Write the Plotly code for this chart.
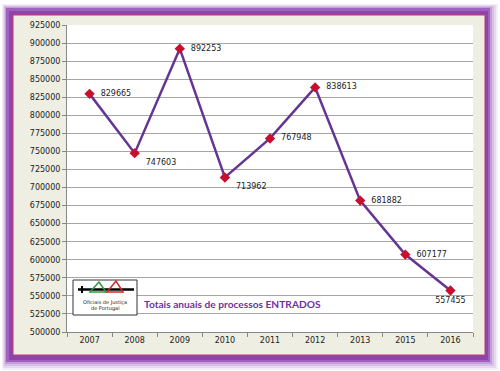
import plotly.graph_objects as go

years = ["2007", "2008", "2009", "2010", "2011", "2012", "2013", "2015", "2016"]
values = [829665, 747603, 892253, 713962, 767948, 838613, 681882, 607177, 557455]
label_pos = ["middle right", "bottom right", "middle right", "bottom right", "middle right",
             "middle right", "middle right", "middle right", "bottom center"]
title_text = "Totais anuais de processos ENTRADOS"

W, H = 500, 371
L, R, T, B = 67, 473, 25, 332

def px(x):
    return (x - L) / (R - L)

def py(y):
    return (B - y) / (B - T)

def rect(x0, y0, x1, y1, **kw):
    return dict(type="rect", xref="paper", yref="paper",
                x0=px(x0), x1=px(x1), y0=py(y1), y1=py(y0), **kw)

shapes = []
# soft glow / shadow around the frame
glow = [(2, 4, 498, 370, 0.10), (3, 5, 496, 368, 0.14), (4, 6, 494, 366, 0.20), (5, 7, 492, 364, 0.30)]
for x0, y0, x1, y1, op in glow:
    shapes.append(rect(x0, y0, x1, y1, fillcolor=f"rgba(150,90,185,{op})",
                       line=dict(width=0), layer="below"))
# purple frame
shapes.append(rect(6, 8, 490, 362, fillcolor="#A062BE", line=dict(width=0), layer="below"))
shapes.append(rect(9, 11, 488, 360, fillcolor="#8E45AA", line=dict(width=0), layer="below"))
# beige panel with thin pink border
shapes.append(rect(13, 15, 485, 355, fillcolor="#EEEEE2",
                   line=dict(color="#C03A70", width=1), layer="below"))
# white plot area
shapes.append(dict(type="rect", xref="paper", yref="paper", x0=0, x1=1, y0=0, y1=1,
                   fillcolor="white", line=dict(width=0), layer="below"))

# logo box
shapes.append(rect(73, 280, 137, 315, fillcolor="white",
                   line=dict(color="#333333", width=1), layer="above"))
shapes.append(dict(type="line", xref="paper", yref="paper",
                   x0=px(78), x1=px(134), y0=py(289.5), y1=py(289.5),
                   line=dict(color="black", width=2.5), layer="above"))
shapes.append(dict(type="line", xref="paper", yref="paper",
                   x0=px(82), x1=px(82), y0=py(286), y1=py(293),
                   line=dict(color="black", width=2), layer="above"))
shapes.append(dict(type="path", xref="paper", yref="paper",
                   path=f"M {px(90)},{py(292)} L {px(99)},{py(282)} L {px(106)},{py(292)} Z",
                   line=dict(color="#2E9A3E", width=1.5), layer="above"))
shapes.append(dict(type="path", xref="paper", yref="paper",
                   path=f"M {px(107)},{py(292)} L {px(116)},{py(281)} L {px(123)},{py(292)} Z",
                   line=dict(color="#D02828", width=1.5), layer="above"))

annotations = [
    dict(text="Oficiais de Justiça", xref="paper", yref="paper", x=px(105), y=py(302),
         showarrow=False, font=dict(family="DejaVu Sans", size=5, color="#222222"),
         xanchor="center", yanchor="middle"),
    dict(text="de Portugal", xref="paper", yref="paper", x=px(105), y=py(308),
         showarrow=False, font=dict(family="DejaVu Sans", size=5, color="#222222"),
         xanchor="center", yanchor="middle"),
    dict(text=title_text, xref="paper", yref="paper", x=px(142), y=py(304),
         showarrow=False, font=dict(family="Lato", size=10.2, color="#7030A0", weight="bold"),
         xanchor="left", yanchor="middle"),
]

fig = go.Figure()
fig.add_trace(go.Scatter(
    x=years, y=values, mode="lines+markers+text",
    line=dict(color="#643592", width=2.5),
    marker=dict(symbol="diamond", size=8, color="#C8102E"),
    text=["  " + f"{v}" if p != "bottom center" else f"{v}" for v, p in zip(values, label_pos)],
    textposition=label_pos,
    textfont=dict(family="DejaVu Sans", size=8, color="#222222"),
    cliponaxis=False,
    hoverinfo="skip",
))

fig.update_layout(
    width=W, height=H,
    margin=dict(l=L, r=W - R, t=T, b=H - B, pad=0),
    paper_bgcolor="white",
    plot_bgcolor="white",
    showlegend=False,
    shapes=shapes,
    annotations=annotations,
    xaxis=dict(type="category", tickson="boundaries", ticks="outside", ticklen=4,
               tickcolor="#888888", showgrid=False, showline=True, linecolor="#888888",
               tickfont=dict(family="DejaVu Sans", size=8, color="#222222"),
               range=[-0.5, 8.5], fixedrange=True),
    yaxis=dict(range=[500000, 925000], dtick=25000, tick0=500000, showgrid=True,
               gridcolor="#A6A6A6", gridwidth=1, showline=True, linecolor="#888888",
               ticks="outside", ticklen=4, tickcolor="#888888", zeroline=False,
               tickformat="d",
               tickfont=dict(family="DejaVu Sans", size=8, color="#222222"),
               fixedrange=True),
)

fig.write_html("out.html", config={"displayModeBar": False},
               post_script="document.body.style.margin='0';document.body.style.overflow='hidden';")
